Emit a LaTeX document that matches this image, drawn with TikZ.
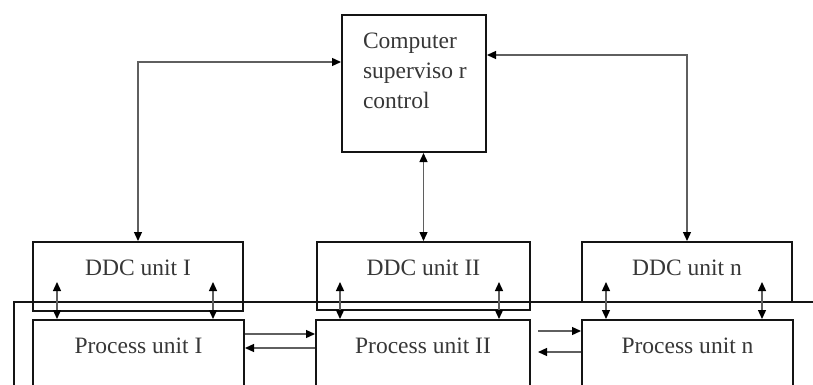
\documentclass[tikz,border=0pt]{standalone}
\usepackage{fontspec}
\setmainfont{Liberation Serif}
\usetikzlibrary{arrows.meta}
\definecolor{ddcedge}{RGB}{20,20,20}
\definecolor{ddcink}{RGB}{55,55,55}
\definecolor{ddcwire}{RGB}{95,95,95}
\tikzset{
  frame/.style={
    draw=ddcedge, line width=2pt, inner sep=0pt, text=ddcink,
    font=\fontsize{23.5}{30}\selectfont
  },
  unitbox/.style={frame, anchor=base, text height=33pt},
  ddc/.style={unitbox},
  proc/.style={unitbox, text depth=60pt},
  tip/.style={Triangle[length=9pt,width=8pt,color=black]},
  arr/.style={-{Triangle[length=9pt,width=8pt,color=black]}, draw=ddcwire, line width=1.3pt},
  darr/.style={{Triangle[length=9pt,width=8pt,color=black]}-{Triangle[length=9pt,width=8pt,color=black]}, draw=ddcwire, line width=1.3pt}
}
\begin{document}
\begin{tikzpicture}[x=1pt,y=-1pt]
  \clip (0,0) rectangle (813,385);
  % supervisory computer
  \node[frame, minimum width=144pt, minimum height=137pt] (comp) at (414,83.5) {};
  \node[frame, draw=none, anchor=north west, align=left] (comptext) at (362,32)
    {Computer\\superviso r\\control};
  % DDC units
  \node[ddc, minimum width=210pt, text depth=36pt] (d1) at (138,275) {DDC unit I};
  \node[ddc, minimum width=213pt, text depth=35pt] (d2) at (423.5,275) {DDC unit II};
  \node[ddc, minimum width=210pt, text depth=27pt] (d3) at (687,275) {DDC unit n};
  % plant frame
  \draw[draw=ddcedge, line width=1.5pt] (14,302) rectangle (830,400);
  % process units
  \node[proc, minimum width=211pt] (p1) at (138.5,353) {Process unit I};
  \node[proc, minimum width=214pt] (p2) at (423,353) {Process unit II};
  \node[proc, minimum width=211pt] (p3) at (687.5,353) {Process unit n};
  % supervisory links
  \draw[darr] ([yshift=-48pt]comp.north west) -| (d1.north);
  \draw[darr] ([yshift=-41pt]comp.north east) -| (d3.north);
  \draw[darr] (comp.south -| d2.north) -- (d2.north);
  % DDC <-> process
  \foreach \u in {p1,p2,p3} {
    \draw[darr] ([xshift=25pt]\u.north west) -- ([xshift=25pt,yshift=37pt]\u.north west);
    \draw[darr] ([xshift=-32pt]\u.north east) -- ([xshift=-32pt,yshift=37pt]\u.north east);
  }
  % process <-> process
  \draw[arr] ([yshift=-15pt]p1.north east) -- ([yshift=-15pt]p2.north west);
  \draw[arr] ([yshift=-29pt]p2.north west) -- ([yshift=-29pt]p1.north east);
  \draw[arr] ([xshift=7pt,yshift=-12pt]p2.north east) -- ([yshift=-12pt]p3.north west);
  \draw[arr] ([yshift=-33pt]p3.north west) -- ([xshift=7pt,yshift=-33pt]p2.north east);
\end{tikzpicture}
\end{document}
